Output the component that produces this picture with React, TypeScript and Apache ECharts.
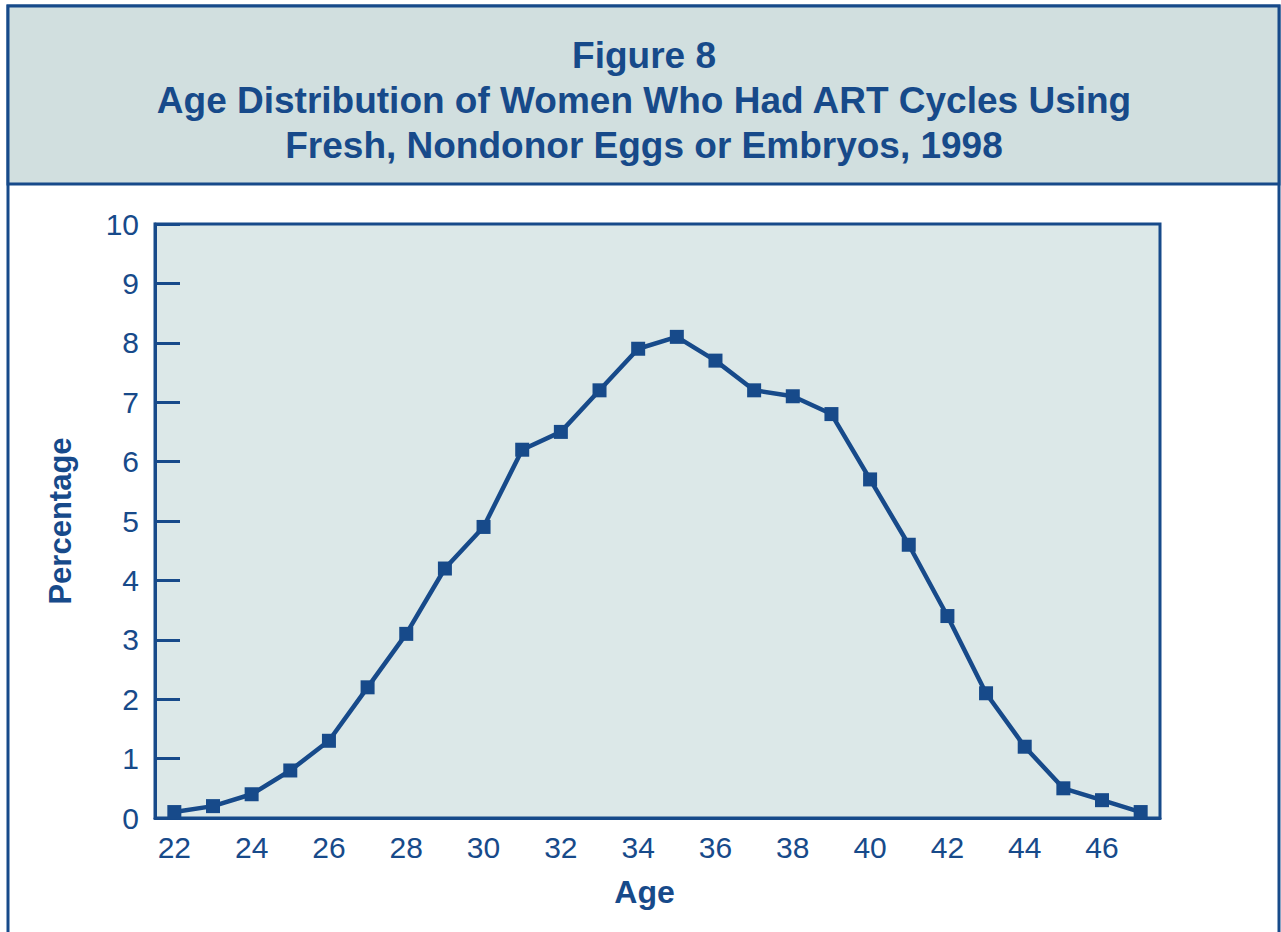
import React, { useEffect, useRef } from "react";
import * as echarts from "echarts";

const ages = ["22","23","24","25","26","27","28","29","30","31","32","33","34","35","36","37","38","39","40","41","42","43","44","45","46","47"];
const percentages = [0.1,0.2,0.4,0.8,1.3,2.2,3.1,4.2,4.9,6.2,6.5,7.2,7.9,8.1,7.7,7.2,7.1,6.8,5.7,4.6,3.4,2.1,1.2,0.5,0.3,0.1];
const titleLines = ["Figure 8", "Age Distribution of Women Who Had ART Cycles Using", "Fresh, Nondonor Eggs or Embryos, 1998"];
const yTitle = "Percentage";
const xTitle = "Age";

const BLUE = "#174a8a";
const FONT = "'Liberation Sans', Arial, Helvetica, sans-serif";

export default function App() {
  const ref = useRef<HTMLDivElement>(null);
  useEffect(() => {
    document.body.style.margin = "0";
    const chart = echarts.init(ref.current!, null, { renderer: "svg" });
    chart.setOption({
      animation: false,
      backgroundColor: "#ffffff",
      graphic: [
        { type: "rect", shape: { x: 8, y: 6, width: 1271, height: 940 }, style: { fill: "none", stroke: BLUE, lineWidth: 3 }, z: 0 },
        { type: "rect", shape: { x: 8, y: 6, width: 1271, height: 178 }, style: { fill: "#d1dfdf", stroke: BLUE, lineWidth: 3 }, z: 0 },
        ...titleLines.map((t, i) => ({
          type: "text",
          x: 644,
          y: 55 + i * 45,
          style: { text: t, fill: BLUE, font: `bold 37px ${FONT}`, textAlign: "center", textVerticalAlign: "middle" },
          z: 1,
        })),
      ],
      grid: {
        left: 155, top: 224, right: 121, bottom: 114,
        show: true, backgroundColor: "#dce8e8", borderColor: BLUE, borderWidth: 3,
      },
      xAxis: {
        type: "category",
        data: ages,
        boundaryGap: true,
        name: xTitle,
        nameLocation: "middle",
        nameGap: 58,
        nameTextStyle: { color: BLUE, fontSize: 32, fontWeight: "bold", fontFamily: FONT, padding: [0, 26, 0, 0] },
        axisLine: { lineStyle: { color: BLUE, width: 3 } },
        axisTick: { alignWithLabel: true, inside: true, length: 13, interval: 0, lineStyle: { color: BLUE, width: 3 } },
        axisLabel: { interval: 1, color: BLUE, fontSize: 30, fontFamily: FONT, margin: 14 },
        splitLine: { show: false },
      },
      yAxis: {
        type: "value",
        min: 0, max: 10, interval: 1,
        name: yTitle,
        nameLocation: "middle",
        nameRotate: 90,
        nameGap: 79,
        nameTextStyle: { color: BLUE, fontSize: 31, fontWeight: "bold", fontFamily: FONT },
        axisLine: { show: true, lineStyle: { color: BLUE, width: 3 } },
        axisTick: { show: true, inside: true, length: 25, lineStyle: { color: BLUE, width: 3 } },
        axisLabel: { color: BLUE, fontSize: 30, fontFamily: FONT, margin: 16 },
        splitLine: { show: false },
      },
      series: [
        {
          type: "line",
          data: percentages,
          symbol: "rect",
          symbolSize: 14,
          itemStyle: { color: BLUE },
          lineStyle: { color: BLUE, width: 4.5 },
        },
      ],
    });
    return () => chart.dispose();
  }, []);
  return <div ref={ref} style={{ position: "fixed", left: 0, top: 0, width: 1281, height: 932 }} />;
}
